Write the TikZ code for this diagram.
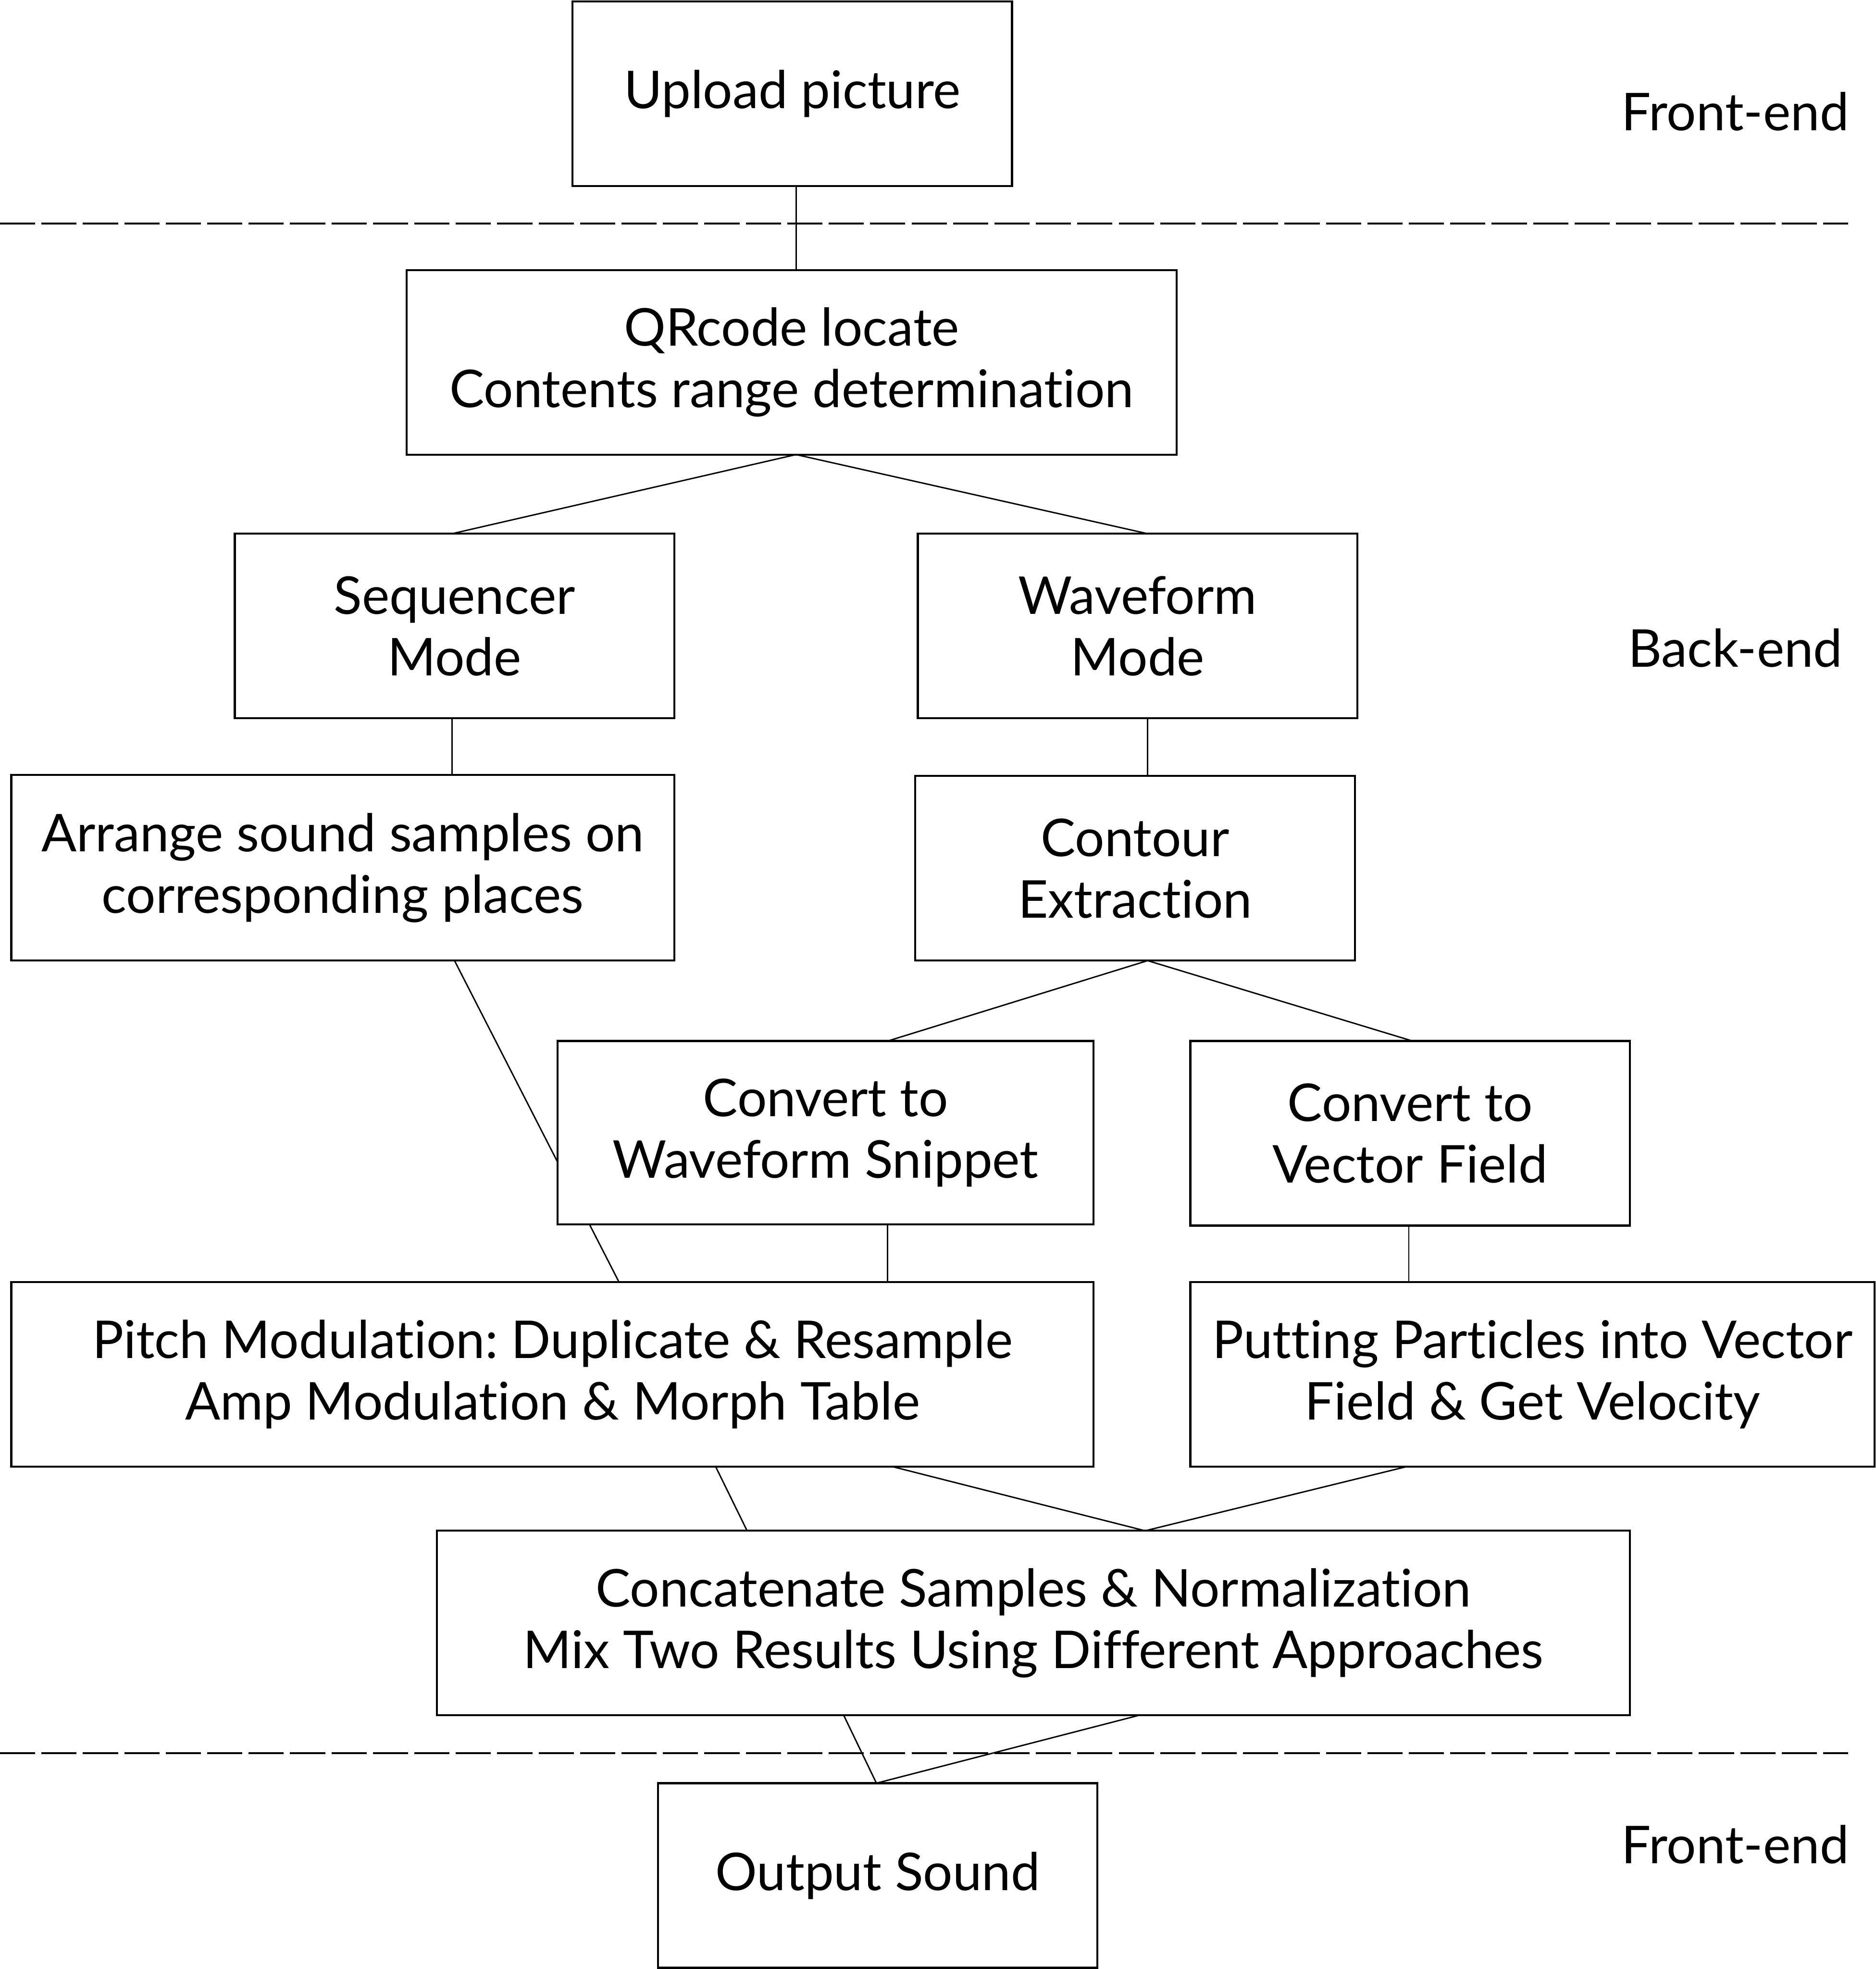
\documentclass[tikz,border=0pt]{standalone}
\usepackage{fontspec}
\setmainfont{Lato}[Ligatures={NoCommon}]
\usetikzlibrary{backgrounds}
\frenchspacing
\begin{document}
\begin{tikzpicture}[x=1pt,y=-1pt,
  box/.style={draw,fill=white,line width=1.6pt,inner sep=0pt,outer sep=0pt,align=center,
    font=\fontsize{41.5}{49}\selectfont,minimum height=147pt},
  lbl/.style={inner sep=0pt,font=\fontsize{41.5}{49}\selectfont},
  conn/.style={line width=1.1pt},
  sep/.style={line width=1.4pt,dash pattern=on 28pt off 5pt}]
\useasboundingbox (0,0) rectangle (1494,1568);
% boxes
\node[box,minimum width=350pt] (up)  at (631,74.5)   {Upload picture};
\node[box,minimum width=613pt] (qr)  at (630.5,288.5) {QRcode locate\\Contents range determination};
\node[box,minimum width=350pt] (seq) at (362,498.5)  {Sequencer\\Mode};
\node[box,minimum width=350pt] (wav) at (906,498.5)  {Waveform\\Mode};
\node[box,minimum width=528pt,minimum height=148pt] (arr) at (273,691) {Arrange sound samples on\\corresponding places};
\node[box,minimum width=350pt] (con) at (904,691.5)  {Contour\\Extraction};
\node[box,minimum width=427pt,minimum height=146pt] (cws) at (657.5,902) {Convert to\\Waveform Snippet};
\node[box,minimum width=350pt] (cvf) at (1123,902.5) {Convert to\\Vector Field};
\node[box,minimum width=862pt] (pit) at (440,1094.5) {Pitch Modulation: Duplicate \& Resample\\Amp Modulation \& Morph Table};
\node[box,minimum width=545pt] (put) at (1220.5,1094.5) {Putting Particles into Vector\\Field \& Get Velocity};
\node[box,minimum width=950pt] (cat) at (823,1292.5) {Concatenate Samples \& Normalization\\Mix Two Results Using Different Approaches};
\node[box,minimum width=350pt] (out) at (699,1493.5) {Output Sound};
% side labels
\node[lbl] (fe1) at (1382,89) {Front-end};
\node[lbl] (be)  at (1382,516) {Back-end};
\node[lbl] (fe2) at (1382,1469) {Front-end};
% separators
\coordinate (s1a) at (0,178);
\coordinate (s1b) at (1472,178);
\coordinate (s2a) at (0,1396);
\coordinate (s2b) at (1472,1396);
\begin{scope}[on background layer]
\draw[sep] (s1a) -- (s1b);
\draw[sep] (s2a) -- (s2b);
\draw[conn] ([xshift=3pt]up.south) -- ([xshift=3.5pt]qr.north);
\draw[conn] ([xshift=3.5pt]qr.south) -- ([xshift=-2pt]seq.north);
\draw[conn] ([xshift=3.5pt]qr.south) -- ([xshift=8pt]wav.north);
\draw[conn] ([xshift=-2pt]seq.south) -- ([xshift=87pt]arr.north);
\draw[conn] ([xshift=8pt]wav.south) -- ([xshift=10pt]con.north);
\draw[conn] ([xshift=89pt]arr.south) -- ([xshift=53pt]pit.north);
\draw[conn] ([xshift=10pt]con.south) -- ([xshift=49.5pt]cws.north);
\draw[conn] ([xshift=10pt]con.south) -- ([xshift=2pt]cvf.north);
\draw[conn] ([xshift=49.5pt]cws.south) -- ([xshift=267pt]pit.north);
\draw[conn] ([xshift=-1pt]cvf.south) -- ([xshift=-98.5pt]put.north);
\draw[conn] ([xshift=130pt]pit.south) -- ([xshift=-228pt]cat.north);
\draw[conn] ([xshift=271pt]pit.south) -- ([xshift=89pt]cat.north);
\draw[conn] ([xshift=-100.5pt]put.south) -- ([xshift=89pt]cat.north);
\draw[conn] ([xshift=-151pt]cat.south) -- ([xshift=-1pt]out.north);
\draw[conn] ([xshift=84pt]cat.south) -- ([xshift=-1pt]out.north);
\end{scope}
\end{tikzpicture}
\end{document}
